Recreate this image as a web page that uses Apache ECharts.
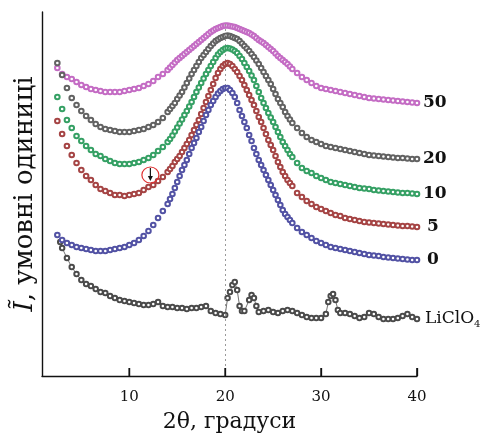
<!DOCTYPE html>
<html><head><meta charset="utf-8">
<script src="https://cdn.jsdelivr.net/npm/echarts@6/dist/echarts.min.js"></script>
<style>html,body{margin:0;padding:0;background:#fff}#c{width:484px;height:439px}</style>
</head><body><div id="c"></div>
<script>
// 2θ positions (degrees) shared by the five composite curves
const angles = [2.5,3,3.5,4,4.5,5,5.5,6,6.5,7,7.5,8,8.5,9,9.5,10,10.5,11,11.5,12,12.5,13,13.5,
14,14.25,14.5,14.75,15,15.25,15.5,15.75,16,16.25,16.5,16.75,17,17.25,17.5,17.75,18,18.25,18.5,18.75,19,19.25,19.5,19.75,20,20.25,20.5,20.75,21,21.25,21.5,21.75,22,22.25,22.5,22.75,23,23.25,23.5,23.75,24,24.25,24.5,24.75,25,25.25,25.5,25.75,26,26.25,26.5,26.75,27,
27.5,28,28.5,29,29.5,30,30.5,31,31.5,32,32.5,33,33.5,34,34.5,35,35.5,36,36.5,37,37.5,38,38.5,39,39.5,40];

const s50 = [308,302,299,297,294,291,289,287,286,285,284,284,284,284,285,286,287,288,290,292,295,299,302,
306,308.5,311,313.5,316,318,320,322,324,326,328,330,332,334,336,338,340,342,344,345.5,347,348,349,350,350.5,350.5,350,349.5,349,348,347,346,345,344,343,341.5,340,338,336,334.5,333,331,329,327,325,322.5,320,318,316,314,312,309.5,307,
303,299,296,293,290,288,287,286,285,284,283,282,281,280,279,278,277.5,277,276.5,276,275.5,275,274.5,274,273.5,273];

const s20 = [313,301,288,278,271,265,260,256,252,249,247,246,245,244,244,244,245,246,247,249,251,254,258,
264,267,270,273,277,280.5,284,288.5,293,297.5,302,306,310,314,318,321,324,327,330,332.5,335,336.5,338,339,340,340.5,340,339,338,337,335,332.5,330,327.5,325,322,319,315.5,312,308,304,300,296,292,287,282,277,273,269,264,260,256.5,253,
248,243,239,236,234,232,230,229,228,227,226,225,224,223,222,221,220.5,220,219.5,219,218.5,218,218,217.5,217,217];

const s10 = [279,267,256,248,240,235,230,226,222,220,217,215,213,212,212,212,213,214,216,218,221,225,229,
234,237,240.5,244.5,248.5,252.5,256.5,261,265,269.5,274,279,284,288.5,293,297.5,302,306,310,314,318,321.5,324,326,327.5,328,327.5,326.5,325,323,320,317,313,309,305,300.5,296,290,284,278,273,268,263,258.5,254,249,244,239,234,230,226,222,219,
213,208,205,203,200,198,196,194,193,192,191,190,189,188,187.5,187,186,185.5,185,184.5,184,183.5,183,183,182.5,182];

const s5 = [255,242,230,221,213,206,200,196,191,187,185,183,181,181,180,181,182,183,186,189,191,195,199,
204,207,210,214,217,220,224,228,232,236,241,246,251,256,262,268,274,280,286,292,298,303,307,310,312,313,312,310,307,304,300,296,291,286,281,276,271,265,259,254,248,242,236,231,226,220,214,209,204,200,196,193,190,
183,179,175,172,169,167,165,163,161,160,158,157,156,155,154,153.5,153,152.5,152,151.5,151,150.5,150,150,149.5,149];

const s0 = [141,136,133,131,129,128,127,126,125,125,125,126,127,128,129,131,133,136,140,145,151,158,165,
172,177,182,188,194,200,206,211,216,222,228,233,238,244,249,255,261,266,271,275,279,282.5,285,287,288,288,286,283,279,273,266,260,254,248,241,235,228,222,216,211,206,201,196,191,186,181,176,171,166,162,159,156,153,
148,144,141,138,135,133,131,129,128,127,126,125,124,123,122,121,120.5,120,119,118.5,118,117.5,117,116.5,116,116];

const licloAngles = [2.8,3,3.5,4,4.5,5,5.5,6,6.5,7,7.5,8,8.5,9,9.5,10,10.5,11,11.5,12,12.5,13,13.5,14,14.5,15,15.5,16,16.5,17,17.5,18,18.5,19,19.5,20,20.25,20.5,20.75,21,21.25,21.5,21.75,22,22.5,22.75,23,23.25,23.5,24,24.5,25,25.5,26,26.5,27,27.5,28,28.5,29,29.5,30,30.5,30.75,31,31.25,31.5,31.75,32,32.5,33,33.5,34,34.5,35,35.5,36,36.5,37,37.5,38,38.5,39,39.5,40];
const liclo = [134,128,118,109,102,96,92,90,87,84,83,80,78,76,75,74,73,72,71,71,72,74,70,69,69,68,68,67,68,68,69,70,65,63,62,61,78,84,91,94,86,70,65,65,76,81,78,70,64,65,66,64,63,65,66,65,63,61,59,58,58,58,62,74,80,82,76,66,63,63,62,60,58,59,63,62,59,57,57,57,58,60,62,59,57];

const xTicks = [10,20,30,40];
const names = ['50','20','10','5','0','LiClO4'];
const colors = ['#c46cc4','#626262','#35a064','#a54444','#5252a4','#4a4a4a'];

const FONT = '"DejaVu Serif", "Liberation Serif", serif';

function pairs(xs, ys){ return xs.map((x,i)=>[x, ys[i]]); }

const curveData = [s50, s20, s10, s5, s0];
const series = curveData.map((arr, k) => ({
  name: names[k], type: 'line', data: pairs(angles, arr),
  symbol: 'emptyCircle', symbolSize: 4.6, showSymbol: true,
  itemStyle: {color: colors[k], borderWidth: 0.8},
  lineStyle: {width: 0, opacity: 0},
  z: 3 + k,
  endLabel: {show: true, formatter: names[k], color: '#111', fontFamily: FONT, fontSize: 17, fontWeight: 'bold',
    distance: names[k].length === 1 ? 10 : 6}
}));
series.push({
  name: names[5], type: 'line', data: pairs(licloAngles, liclo),
  symbol: 'emptyCircle', symbolSize: 4.5, showSymbol: true,
  itemStyle: {color: colors[5], borderWidth: 0.9},
  lineStyle: {width: 0.7, color: '#333'},
  endLabel: {show: true, formatter: '{a|LiClO}{s|4}', distance: 8,
    rich: {a: {fontFamily: FONT, fontSize: 17, color: '#111'},
           s: {fontFamily: FONT, fontSize: 10, color: '#111', padding: [11,0,0,0]}}},
  markLine: {silent: true, symbol: 'none', label: {show: false},
    lineStyle: {type: [2,3], color: '#999', width: 1},
    data: [[{coord: [20, 0]}, {coord: [20, 352]}]]}
});

const chart = echarts.init(document.getElementById('c'));
chart.setOption({
  animation: false,
  backgroundColor: '#fff',
  grid: {left: 42, right: 67, top: 12, bottom: 63},
  xAxis: {
    type: 'value', min: 0.9, max: 40,
    name: '2θ, градуси', nameLocation: 'middle', nameGap: 35,
    nameTextStyle: {fontFamily: FONT, fontSize: 22, color: '#111'},
    axisLine: {lineStyle: {color: '#111', width: 1.4}},
    axisTick: {show: true, inside: true, length: 8, customValues: xTicks, lineStyle: {color: '#111', width: 1.3}},
    axisLabel: {customValues: xTicks, fontFamily: FONT, fontSize: 15, color: '#111', margin: 14},
    splitLine: {show: false}
  },
  yAxis: {
    type: 'value', min: 0, max: 364,
    name: '{i|Ĩ}, умовні одиниці', nameLocation: 'middle', nameGap: 4,
    nameTextStyle: {fontFamily: FONT, fontSize: 26, color: '#111',
      rich: {i: {fontFamily: FONT, fontSize: 26, fontStyle: 'italic', color: '#111'}}},
    axisLine: {show: true, lineStyle: {color: '#111', width: 1.4}},
    axisTick: {show: false}, axisLabel: {show: false}, splitLine: {show: false}
  },
  series: series
});

// annotation: red ring with a downward arrow near the 5 curve; x-axis tick marks
const ringC = chart.convertToPixel({gridIndex: 0}, [12.2, 201]);
const arrTop = chart.convertToPixel({gridIndex: 0}, [12.2, 208]);
const arrBot = chart.convertToPixel({gridIndex: 0}, [12.2, 195]);
const graphics = [
  {type: 'ellipse', shape: {cx: ringC[0], cy: ringC[1], rx: 8.5, ry: 8}, style: {fill: 'none', stroke: '#e03030', lineWidth: 1.2}, z: 20},
  {type: 'line', shape: {x1: arrTop[0], y1: arrTop[1], x2: arrBot[0], y2: arrBot[1] - 4}, style: {stroke: '#111', lineWidth: 1.2}, z: 21},
  {type: 'polygon', shape: {points: [[arrBot[0]-2.5, arrBot[1]-5], [arrBot[0]+2.5, arrBot[1]-5], [arrBot[0], arrBot[1]]]}, style: {fill: '#111'}, z: 21}
];
xTicks.forEach(t => {
  const p = chart.convertToPixel({gridIndex: 0}, [t, 0]);
  graphics.push({type: 'line', shape: {x1: p[0], y1: p[1], x2: p[0], y2: p[1] - 8}, style: {stroke: '#111', lineWidth: 1.6}, z: 30});
});
chart.setOption({graphic: graphics});
</script>
</body></html>
